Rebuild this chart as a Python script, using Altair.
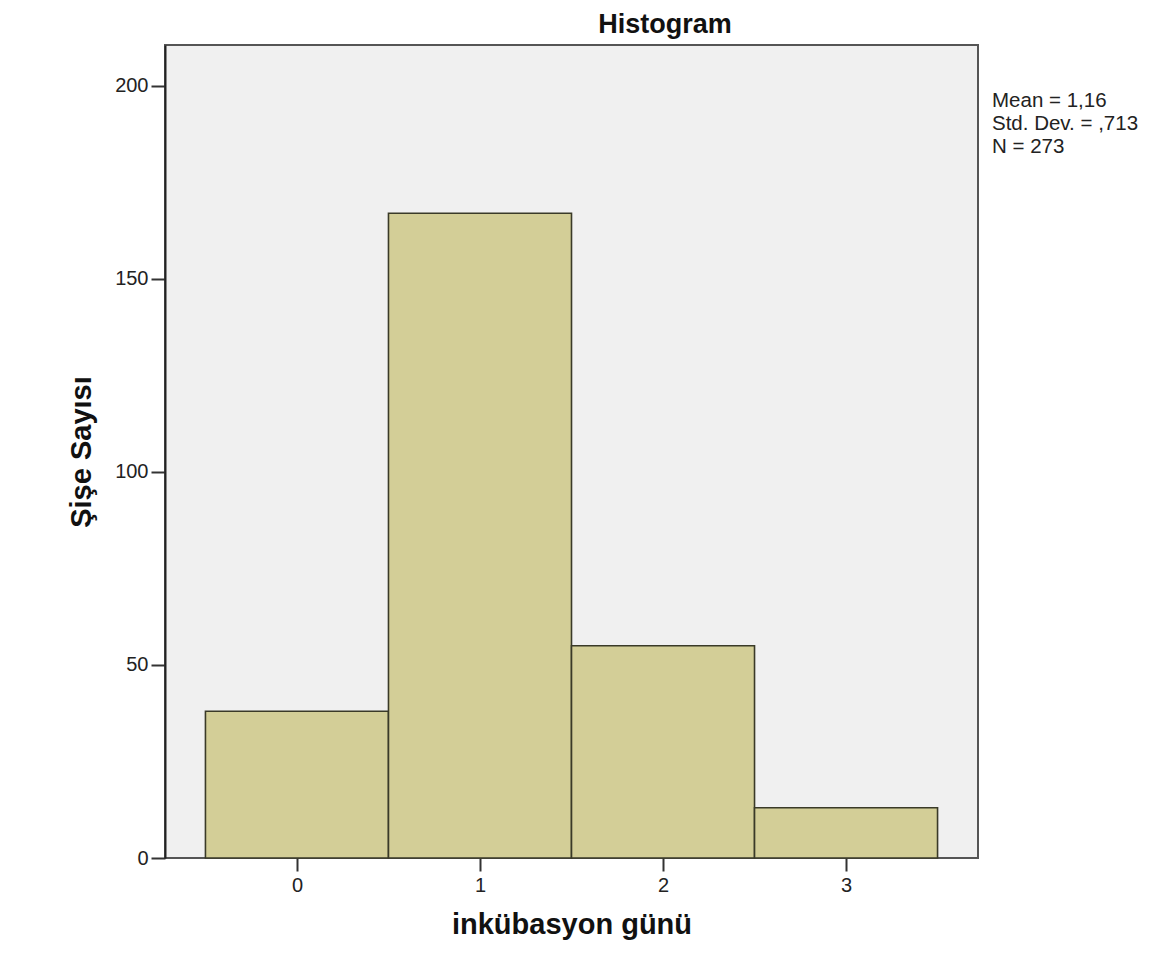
import altair as alt
import pandas as pd

# Data
days = [0, 1, 2, 3]
counts = [38, 167, 55, 13]
stats_lines = ["Mean = 1,16", "Std. Dev. = ,713", "N = 273"]
chart_title = "Histogram"
y_ticks = [0, 50, 100, 150, 200]
x_ticks = [0, 1, 2, 3]

df = pd.DataFrame({"day": days, "count": counts})

FONT = "Liberation Sans"
W, H = 813, 813

x_scale = alt.Scale(domain=[-0.721, 3.721], nice=False, zero=False)
y_scale = alt.Scale(domain=[0, 210.6], nice=False)

bars = alt.Chart(df).transform_calculate(
    x0="datum.day - 0.5", x1="datum.day + 0.5"
).mark_rect(
    fill="#D3CE97", stroke="#3A3A28", strokeWidth=1.6
).encode(
    x=alt.X("x0:Q", scale=x_scale,
            axis=alt.Axis(values=x_ticks, title="inkübasyon günü", format="d",
                          tickSize=13, tickWidth=2, tickColor="#333333",
                          labelFontSize=20, labelPadding=4, labelColor="#222222",
                          labelFont=FONT, titleFont=FONT, titleFontSize=29,
                          titleFontWeight="bold", titleColor="#111111",
                          titlePadding=15, grid=False, domain=False)),
    x2="x1:Q",
    y=alt.Y("count:Q", scale=y_scale,
            axis=alt.Axis(values=y_ticks, title="Şişe Sayısı",
                          tickSize=14, tickWidth=2, tickColor="#333333",
                          labelFontSize=20, labelPadding=3, labelColor="#222222",
                          labelFont=FONT, titleFont=FONT, titleFontSize=29,
                          titleFontWeight="bold", titleColor="#111111",
                          titlePadding=18, grid=False, domain=True,
                          domainColor="#222222", domainWidth=2)),
    y2=alt.datum(0),
)

stats = alt.Chart(pd.DataFrame({"t": [0]})).mark_text(
    align="left", baseline="alphabetic", font=FONT, fontSize=20.5,
    lineHeight=22.8, color="#222222"
).encode(
    x=alt.value(W + 14),
    y=alt.value(62),
    text=alt.value(stats_lines),
)

title = alt.Chart(pd.DataFrame({"t": [0]})).mark_text(
    align="center", baseline="alphabetic", font=FONT, fontSize=27,
    fontWeight="bold", color="#111111"
).encode(
    x=alt.value(500),
    y=alt.value(-12),
    text=alt.value(chart_title),
)

chart = alt.layer(bars, stats, title).properties(
    width=W, height=H,
    autosize=alt.AutoSizeParams(type="none"),
    padding={"left": 157, "top": 37, "right": 178, "bottom": 86},
).configure(
    background="white"
).configure_view(
    fill="#F0F0F0", stroke="#555555", strokeWidth=2
)

chart.save("out.html", embed_options={"renderer": "svg", "actions": False})
